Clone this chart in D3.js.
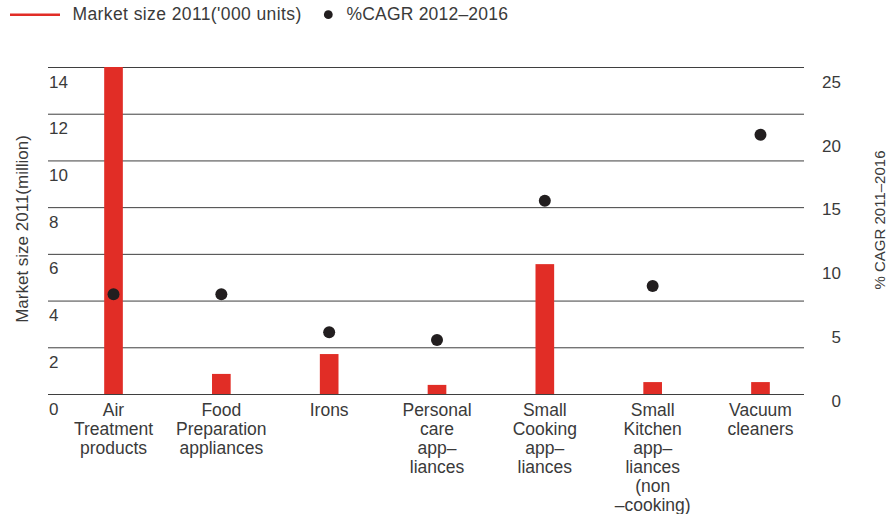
<!DOCTYPE html>
<html>
<head>
<meta charset="utf-8">
<script src="https://cdn.jsdelivr.net/npm/d3@7/dist/d3.min.js"></script>
<style>
  html, body { margin: 0; padding: 0; background: #fff; }
  svg { display: block; font-family: "Liberation Sans", Arial, sans-serif; }
</style>
</head>
<body>
<svg id="chart" width="888" height="514"></svg>
<script>
// Categories (line breaks mark how each label wraps under its bar)
const categories = [
  "Air\nTreatment\nproducts",
  "Food\nPreparation\nappliances",
  "Irons",
  "Personal\ncare\napp–\nliances",
  "Small\nCooking\napp–\nliances",
  "Small\nKitchen\napp–\nliances\n(non\n–cooking)",
  "Vacuum\ncleaners"
];
// Market size 2011, million units (left axis)
const marketSize = [14, 0.86, 1.71, 0.39, 5.56, 0.51, 0.51];
// % CAGR (right axis)
const cagr = [7.83, 7.83, 4.84, 4.24, 15.17, 8.48, 20.35];

const leftTicks = [0, 2, 4, 6, 8, 10, 12, 14];
const rightTicks = [0, 5, 10, 15, 20, 25];
const leftMax = 14;
const rightMax = 25.67;

const legendLabels = ["Market size 2011('000 units)", "%CAGR 2012–2016"];
const leftTitle = "Market size 2011(million)";
const rightTitle = "% CAGR 2011–2016";

const RED = "#e12d26";
const DOT = "#221e1f";
const TEXT = "#3a3a3a";

const svg = d3.select("#chart");

const plotTop = 67, plotBottom = 394;
const gridLeft = 48, gridRight = 804;

const x = d3.scaleBand()
  .domain(d3.range(categories.length))
  .range([59.6, 814.4])
  .paddingInner(0.827)
  .paddingOuter(0.4135);

const yLeft = d3.scaleLinear().domain([0, leftMax]).range([plotBottom, plotTop]);
const yRight = d3.scaleLinear().domain([0, rightMax]).range([plotBottom, plotTop]);

// Gridlines + left tick labels
const leftAxis = svg.append("g")
  .attr("transform", `translate(${gridLeft},0)`)
  .call(d3.axisLeft(yLeft).tickValues(leftTicks).tickSize(-(gridRight - gridLeft)).tickFormat(d3.format("d")));
leftAxis.select(".domain").remove();
leftAxis.selectAll(".tick line").attr("stroke", "#3f3f3f").attr("stroke-width", 1);
leftAxis.selectAll(".tick text")
  .attr("x", 1).attr("dy", 0).attr("y", 20)
  .attr("text-anchor", "start")
  .attr("fill", TEXT)
  .style("font-size", "17px")
  .style("font-family", "'Liberation Sans', Arial, sans-serif");

// Right tick labels
const rightAxis = svg.append("g")
  .attr("transform", "translate(841,0)")
  .call(d3.axisRight(yRight).tickValues(rightTicks).tickSize(0).tickFormat(d3.format("d")));
rightAxis.select(".domain").remove();
rightAxis.selectAll(".tick text")
  .attr("x", 0).attr("dy", 0).attr("y", 12)
  .attr("text-anchor", "end")
  .attr("fill", TEXT)
  .style("font-size", "17px")
  .style("font-family", "'Liberation Sans', Arial, sans-serif");

// Bars
svg.append("g").selectAll("rect")
  .data(marketSize)
  .join("rect")
  .attr("x", (d, i) => x(i))
  .attr("width", x.bandwidth())
  .attr("y", d => yLeft(d))
  .attr("height", d => yLeft(0) - yLeft(d))
  .attr("fill", RED);

// CAGR dots
svg.append("g").selectAll("circle")
  .data(cagr)
  .join("circle")
  .attr("cx", (d, i) => x(i) + x.bandwidth() / 2)
  .attr("cy", d => yRight(d))
  .attr("r", 6)
  .attr("fill", DOT);

// Category labels
const catG = svg.append("g")
  .attr("fill", TEXT)
  .style("font-size", "17.5px")
  .attr("text-anchor", "middle");
categories.forEach((c, i) => {
  const t = catG.append("text")
    .attr("x", x(i) + x.bandwidth() / 2)
    .attr("y", plotBottom + 22);
  c.split("\n").forEach((line, j) => {
    t.append("tspan")
      .attr("x", x(i) + x.bandwidth() / 2)
      .attr("dy", j === 0 ? 0 : 19)
      .text(line);
  });
});

// Axis titles
svg.append("text")
  .attr("transform", "translate(28,229) rotate(-90)")
  .attr("text-anchor", "middle")
  .attr("fill", TEXT)
  .style("font-size", "17px")
  .text(leftTitle);

svg.append("text")
  .attr("transform", "translate(884.5,220) rotate(-90)")
  .attr("text-anchor", "middle")
  .attr("fill", TEXT)
  .style("font-size", "15px")
  .text(rightTitle);

// Legend
const leg = svg.append("g");
leg.append("line")
  .attr("x1", 10).attr("x2", 60).attr("y1", 14.7).attr("y2", 14.7)
  .attr("stroke", RED).attr("stroke-width", 2.5);
leg.append("text")
  .attr("x", 72.5).attr("y", 20)
  .attr("fill", TEXT).style("font-size", "17.5px").style("letter-spacing", "0.4px")
  .text(legendLabels[0]);
leg.append("circle")
  .attr("cx", 328.3).attr("cy", 14.7).attr("r", 4.4)
  .attr("fill", DOT);
leg.append("text")
  .attr("x", 346.5).attr("y", 20)
  .attr("fill", TEXT).style("font-size", "17.5px").style("letter-spacing", "0.2px")
  .text(legendLabels[1]);
</script>
</body>
</html>
